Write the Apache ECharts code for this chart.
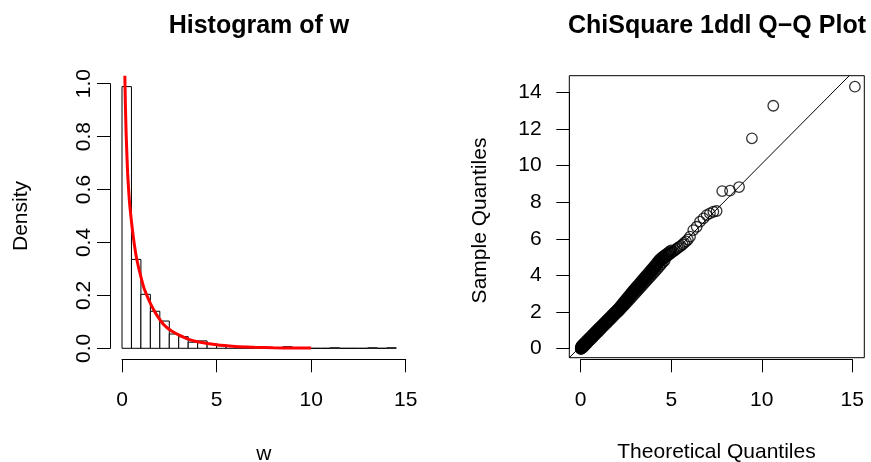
<!DOCTYPE html>
<html><head><meta charset="utf-8">
<script src="https://cdn.jsdelivr.net/npm/echarts@6/dist/echarts.min.js"></script>
<style>html,body{margin:0;padding:0;background:#fff}#c{width:871px;height:462px}</style>
</head><body><div id="c"></div>
<script>
// ---------- Histogram of w ----------
const binStarts = [0,0.5,1,1.5,2,2.5,3,3.5,4,4.5,5,5.5,6,6.5,7,7.5,8,8.5,9,9.5,10,10.5,11,11.5,12,12.5,13,13.5,14];
const binWidth = 0.5;
const histDensity = [0.989,0.336,0.204,0.140,0.103,0.054,0.044,0.023,0.028,0.017,0.010,0.010,0.006,0.006,0.006,0.002,0,0.006,0,0,0,0,0.002,0,0,0,0.002,0,0.002];
const curveX = [0.15,0.18,0.22,0.26,0.3,0.35,0.4,0.5,0.6,0.7,0.8,1.0,1.2,1.5,1.8,2.2,2.6,3.0,3.5,4.0,5.0,6.0,7.0,8.0,9.0,10.0];
const curveY = [1.03,0.92,0.81,0.73,0.66,0.60,0.55,0.48,0.42,0.37,0.33,0.27,0.22,0.17,0.13,0.09,0.066,0.051,0.035,0.025,0.013,0.007,0.004,0.002,0.001,0.001];
const histXTicks = [0,15];
const histYTicks = [0,1];

// ---------- ChiSquare 1ddl Q-Q Plot ----------
const qqTheo = [0.00,0.01,0.02,0.03,0.05,0.07,0.09,0.11,0.14,0.17,0.20,0.23,0.26,0.29,0.32,0.35,0.38,0.41,0.44,0.47,0.50,0.53,0.56,0.60,0.64,0.68,0.72,0.76,0.80,0.84,0.88,0.92,0.96,1.00,
  1.05,1.10,1.15,1.20,1.25,1.30,1.35,1.40,1.45,1.50,1.55,1.60,1.65,1.70,1.75,1.80,1.85,1.90,1.95,2.00,2.05,2.10,2.15,2.20,2.25,2.30,2.35,2.40,2.45,2.50,2.55,2.60,2.65,2.70,2.75,2.80,2.85,2.90,2.95,3.00,
  3.07,3.14,3.21,3.28,3.35,3.42,3.49,3.56,3.63,3.70,3.77,3.84,3.91,3.98,4.05,4.12,4.19,4.26,4.33,4.40,4.48,4.56,4.64,4.72,4.80,4.88,4.96,
  5.04,5.12,5.20,5.28,5.36,5.45,5.54,5.63,5.72,5.82,5.92,
  6.04,6.22,6.41,6.59,6.78,6.96,7.14,7.33,7.51,7.82,8.25,8.75,9.46,10.64,15.15,
  0.015,0.04,0.06,0.08,0.10,0.125,0.155,0.185,0.215,0.245,0.275,0.305,0.335,0.365,0.395,0.425,0.455,0.485,0.515,0.545,0.58,0.62,0.66,0.70,0.74,0.78,0.82,0.86,0.90,0.94,0.98,
  1.02,1.08,1.13,1.18,1.23,1.28,1.33,1.38,1.43,1.48,1.53,1.58,1.63,1.68,1.73,1.78,1.83,1.88,1.93,1.98,2.03,2.08,2.13,2.18,2.23,2.28,2.33,2.38,2.43,2.48,2.53,2.58,2.63,2.68,2.73,2.78,2.83,2.88,2.93,2.98,
  3.04,3.10,3.17,3.24,3.31,3.38,3.45,3.52,3.59,3.66,3.73,3.80,3.87,3.94,4.01,4.08,4.15,4.22,4.29,4.36,4.44,4.52,4.60,4.68,4.76,4.84,4.92,5.00,
  0.03,0.08,0.13,0.18,0.24,0.30,0.36,0.42,0.48,0.55,0.62,0.70,0.78,0.86,0.95,1.04,1.14,1.24,1.34,1.44,1.54,1.64,1.74,1.84,1.94,2.04,2.14,2.24,2.34,2.44,2.54,2.64,2.74,2.84,2.94,3.04,3.14,3.24,3.34,3.44,3.54,3.64,3.74,3.84,3.94,4.04,4.14,4.24,4.34,4.44,4.54,4.64];
const qqSample = [0.00,0.01,0.03,0.04,0.06,0.08,0.10,0.13,0.15,0.18,0.22,0.25,0.28,0.31,0.34,0.37,0.40,0.43,0.46,0.49,0.52,0.55,0.58,0.62,0.66,0.70,0.74,0.78,0.82,0.86,0.90,0.94,0.98,1.02,
  1.07,1.12,1.17,1.22,1.27,1.32,1.37,1.42,1.47,1.53,1.58,1.63,1.68,1.73,1.78,1.83,1.88,1.93,1.98,2.03,2.08,2.13,2.18,2.23,2.28,2.33,2.39,2.45,2.51,2.57,2.63,2.69,2.75,2.81,2.87,2.93,2.99,3.05,3.11,3.17,
  3.24,3.31,3.39,3.47,3.55,3.63,3.71,3.79,3.87,3.95,4.03,4.11,4.19,4.27,4.35,4.43,4.52,4.61,4.70,4.80,4.85,4.90,4.96,5.02,5.08,5.14,5.20,
  5.26,5.32,5.38,5.44,5.50,5.56,5.62,5.70,5.78,5.86,5.96,
  6.12,6.48,6.66,6.94,7.12,7.30,7.39,7.48,7.52,8.61,8.63,8.83,11.49,13.27,14.31,
  0.11,0.14,0.16,0.18,0.20,0.23,0.26,0.29,0.32,0.35,0.38,0.41,0.44,0.47,0.50,0.53,0.56,0.59,0.62,0.65,0.69,0.73,0.77,0.81,0.85,0.89,0.93,0.97,1.01,1.05,1.09,
  1.13,1.19,1.24,1.29,1.34,1.39,1.44,1.49,1.54,1.59,1.64,1.69,1.74,1.79,1.84,1.89,1.94,1.99,2.04,2.09,2.14,2.19,2.25,2.31,2.37,2.43,2.49,2.55,2.61,2.67,2.73,2.79,2.85,2.91,2.97,3.03,3.09,3.15,3.21,3.27,
  3.34,3.41,3.49,3.57,3.65,3.73,3.81,3.89,3.97,4.05,4.13,4.21,4.29,4.37,4.45,4.53,4.62,4.71,4.80,4.88,4.95,5.01,5.07,5.13,5.19,5.25,5.31,5.37,
  0.00,0.03,0.08,0.13,0.19,0.25,0.31,0.37,0.43,0.50,0.57,0.65,0.73,0.81,0.90,0.99,1.09,1.19,1.29,1.39,1.49,1.59,1.69,1.79,1.89,1.99,2.09,2.19,2.30,2.40,2.51,2.61,2.72,2.83,2.94,3.05,3.16,3.27,3.38,3.49,3.60,3.71,3.82,3.93,4.04,4.15,4.26,4.37,4.48,4.60,4.72,4.82];
const qqLineX = [-0.63,14.84];
const qqLineY = [-0.49,14.91];
const qqXTicks = [0,15];
const qqYTicks = [0,14];

const FONT = '"Liberation Sans", Arial, Helvetica, sans-serif';
const chart = echarts.init(document.getElementById('c'), null, {renderer:'canvas'});

const histData = binStarts.map((s,i)=>[s, histDensity[i], binWidth]);
const curveData = curveX.map((x,i)=>[x, curveY[i]]);
const qqData = qqTheo.map((x,i)=>[x, qqSample[i]]);
const lineData = qqLineX.map((x,i)=>[x, qqLineY[i]]);

const axLine = {show:true, onZero:false, lineStyle:{color:'#000', width:1}};
const axTick = {show:true, length:13, lineStyle:{color:'#000', width:1}};
const nameStyle = {fontSize:21, color:'#000', fontFamily:FONT};

chart.setOption({
  animation:false,
  backgroundColor:'#fff',
  grid:[
    {left:122, top:83.7, width:283.7, height:264.6, containLabel:false, outerBoundsMode:'none'},
    {left:569.3, top:75.7, width:295, height:282, show:true, borderColor:'#000', borderWidth:1, backgroundColor:'transparent', containLabel:false, outerBoundsMode:'none'},
    {left:580.7, top:92.3, width:271.6, height:256.4, containLabel:false, outerBoundsMode:'none'}
  ],
  xAxis:[
    {gridIndex:0, type:'value', min:histXTicks[0], max:histXTicks[1], interval:5, offset:11,
     axisLine:axLine, axisTick:axTick, splitLine:{show:false},
     axisLabel:{fontSize:21, color:'#000', fontFamily:FONT, margin:30},
     name:'w', nameLocation:'middle', nameGap:84, nameTextStyle:nameStyle},
    {gridIndex:1, type:'value', min:-0.63, max:15.67, show:false, splitLine:{show:false}},
    {gridIndex:2, type:'value', min:qqXTicks[0], max:qqXTicks[1], interval:5, offset:10.6,
     axisLine:axLine, axisTick:axTick, splitLine:{show:false},
     axisLabel:{fontSize:21, color:'#000', fontFamily:FONT, margin:30},
     name:'Theoretical Quantiles', nameLocation:'middle', nameGap:82, nameTextStyle:nameStyle}
  ],
  yAxis:[
    {gridIndex:0, type:'value', min:histYTicks[0], max:histYTicks[1], interval:0.2, offset:12,
     axisLine:axLine, axisTick:axTick, splitLine:{show:false},
     axisLabel:{fontSize:21, color:'#000', fontFamily:FONT, margin:15, rotate:90, formatter:v=>v.toFixed(1)},
     name:'Density', nameLocation:'middle', nameGap:78, nameTextStyle:nameStyle},
    {gridIndex:1, type:'value', min:-0.49, max:14.91, show:false, splitLine:{show:false}},
    {gridIndex:2, type:'value', min:qqYTicks[0], max:qqYTicks[1], interval:2, offset:11.4,
     axisLine:axLine, axisTick:axTick, splitLine:{show:false},
     axisLabel:{fontSize:21, color:'#000', fontFamily:FONT, margin:27.6},
     name:'Sample Quantiles', nameLocation:'middle', nameGap:78.6, nameTextStyle:nameStyle}
  ],
  graphic:[
    {type:'text', x:259, y:26, style:{text:'Histogram of w', align:'center', verticalAlign:'middle', font:'bold 25px ' + FONT, fill:'#000'}},
    {type:'text', x:717, y:26, style:{text:'ChiSquare 1ddl Q\u2212Q Plot', align:'center', verticalAlign:'middle', font:'bold 25px ' + FONT, fill:'#000'}}
  ],
  series:[
    {type:'custom', xAxisIndex:0, yAxisIndex:0, data:histData, encode:{x:0,y:1}, silent:true,
     renderItem:(params, api)=>{
       const x0 = api.value(0), h = api.value(1), w = api.value(2);
       const p0 = api.coord([x0, 0]);
       const p1 = api.coord([x0 + w, h]);
       return {type:'rect', shape:{x:p0[0], y:p1[1], width:p1[0]-p0[0], height:p0[1]-p1[1]},
               style:{fill:'#fff', stroke:'#000', lineWidth:1}};
     }},
    {type:'line', xAxisIndex:0, yAxisIndex:0, data:curveData, showSymbol:false, smooth:0.3, clip:false, silent:true,
     lineStyle:{color:'#ff0000', width:3}, z:5},
    {type:'line', xAxisIndex:1, yAxisIndex:1, data:lineData, showSymbol:false, clip:true, silent:true,
     lineStyle:{color:'#000', width:1}},
    {type:'scatter', xAxisIndex:1, yAxisIndex:1, data:qqData, symbol:'circle', symbolSize:10.5, silent:true,
     itemStyle:{color:'rgba(0,0,0,0)', borderColor:'#000', borderWidth:1.3}}
  ]
});
</script></body></html>
